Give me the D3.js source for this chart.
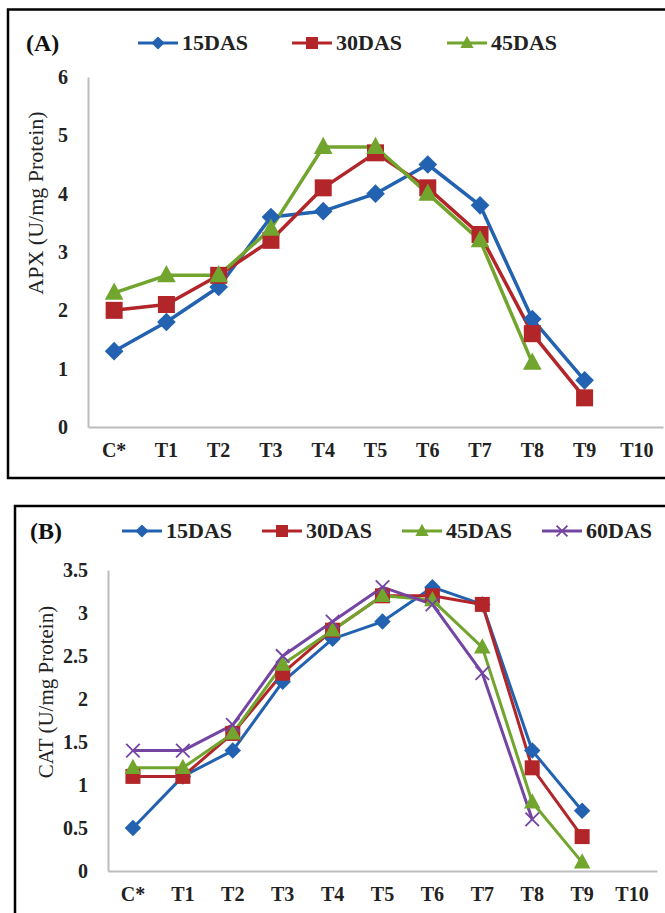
<!DOCTYPE html>
<html><head><meta charset="utf-8">
<script src="https://cdn.jsdelivr.net/npm/d3@7"></script>
<style>body{margin:0;background:#fff}svg{display:block}text{font-family:"Liberation Serif","Times New Roman",serif}</style>
</head><body>
<svg id="c" width="665" height="913"></svg>
<script>
const categories = ["C*","T1","T2","T3","T4","T5","T6","T7","T8","T9","T10"];
const apx15 = [1.3,1.8,2.4,3.6,3.7,4.0,4.5,3.8,1.85,0.8,null];
const apx30 = [2.0,2.1,2.6,3.2,4.1,4.7,4.1,3.3,1.6,0.5,null];
const apx45 = [2.3,2.6,2.6,3.4,4.8,4.8,4.0,3.2,1.1,null,null];
const cat15 = [0.5,1.1,1.4,2.2,2.7,2.9,3.3,3.1,1.4,0.7,null];
const cat30 = [1.1,1.1,1.6,2.3,2.8,3.2,3.2,3.1,1.2,0.4,null];
const cat45 = [1.2,1.2,1.6,2.4,2.8,3.2,3.15,2.6,0.8,0.1,null];
const cat60 = [1.4,1.4,1.7,2.5,2.9,3.3,3.1,2.3,0.6,null,null];
const apxTicks = [0,1,2,3,4,5,6];
const catTicks = [0,0.5,1,1.5,2,2.5,3,3.5];
const seriesNames = ["15DAS","30DAS","45DAS","60DAS"];
const colors = ["#2262b0","#b2262a","#72a52e","#7445a2"];

const svg = d3.select("#c");

function marker(g, idx, x, y, size){
  const col = colors[idx];
  if(idx===0){
    const s=size*0.55;
    g.append("path").attr("d",`M${x},${y-s}L${x+s},${y}L${x},${y+s}L${x-s},${y}Z`).attr("fill",col);
  } else if(idx===1){
    const s=size*0.5;
    g.append("rect").attr("x",x-s).attr("y",y-s).attr("width",2*s).attr("height",2*s).attr("fill",col);
  } else if(idx===2){
    const s=size*0.55;
    g.append("path").attr("d",`M${x},${y-s*1.1}L${x+s},${y+s*0.75}L${x-s},${y+s*0.75}Z`).attr("fill",col);
  } else {
    const s=size*0.45;
    g.append("path").attr("d",`M${x-s},${y-s}L${x+s},${y+s}M${x+s},${y-s}L${x-s},${y+s}`).attr("stroke",col).attr("stroke-width",1.8).attr("fill","none");
  }
}

function panel(cfg){
  const g = svg.append("g");
  g.append("rect").attr("x",cfg.box[0]).attr("y",cfg.box[1]).attr("width",cfg.box[2]).attr("height",cfg.box[3])
    .attr("fill","none").attr("stroke","#000").attr("stroke-width",2.5);
  const x = d3.scaleBand().domain(categories).range([cfg.x0,cfg.x1]).padding(0);
  const y = d3.scaleLinear().domain([0,cfg.ymax]).range([cfg.y0,cfg.yTop]);
  const xa = g.append("g").attr("transform",`translate(0,${cfg.y0})`).call(d3.axisBottom(x).tickSize(0).tickPadding(cfg.xpad));
  xa.select(".domain").attr("stroke","#bdbdbd").attr("stroke-width",2);
  xa.selectAll("text").attr("font-size",20).attr("font-weight","bold").attr("fill","#222").attr("font-family","Liberation Serif");
  const ya = g.append("g").attr("transform",`translate(${cfg.x0},0)`).call(d3.axisLeft(y).tickValues(cfg.ticks).tickSize(0).tickPadding(cfg.ypad).tickFormat(d3.format("")));
  ya.select(".domain").attr("stroke","#bdbdbd").attr("stroke-width",2);
  ya.selectAll("text").attr("font-size",20).attr("font-weight","bold").attr("fill","#222").attr("font-family","Liberation Serif");
  g.append("text").attr("transform",`translate(${cfg.titleX},${cfg.titleY}) rotate(-90)`).attr("text-anchor","middle").attr("dy","0.35em")
    .attr("font-size",cfg.titleSize).attr("fill","#222").text(cfg.title);
  const line = d3.line().defined(d=>d.v!=null).x(d=>x(d.c)+x.bandwidth()/2).y(d=>y(d.v));
  cfg.series.forEach((vals,i)=>{
    const data = categories.map((c,j)=>({c, v: vals[j]}));
    g.append("path").datum(data).attr("d",line).attr("fill","none").attr("stroke",colors[i]).attr("stroke-width",cfg.lw).attr("stroke-linejoin","round");
  });
  cfg.series.forEach((vals,i)=>{
    categories.forEach((c,j)=>{ if(vals[j]!=null) marker(g,i,x(c)+x.bandwidth()/2,y(vals[j]),cfg.msize); });
  });
  g.append("text").attr("x",cfg.labelX).attr("y",cfg.legY+8).attr("font-size",24).attr("font-weight","bold").attr("fill","#111").text(cfg.label);
  cfg.series.forEach((vals,i)=>{
    const lx = cfg.legX[i];
    g.append("line").attr("x1",lx).attr("x2",lx+40).attr("y1",cfg.legY).attr("y2",cfg.legY).attr("stroke",colors[i]).attr("stroke-width",3);
    marker(g,i,lx+20,cfg.legY,cfg.lmsize);
    g.append("text").attr("x",lx+44).attr("y",cfg.legY+7).attr("font-size",22).attr("font-weight","bold").attr("fill","#222").text(seriesNames[i]);
  });
}

panel({box:[8,9.5,670,468.5], x0:88, x1:663, y0:427, yTop:77, ymax:6, ticks:apxTicks, xpad:16, ypad:20,
  title:"APX (U/mg Protein)", titleSize:22, titleX:35, titleY:203, series:[apx15,apx30,apx45], msize:17, lmsize:12, lw:3.5,
  label:"(A)", labelX:26, legY:43, legX:[138,292,447]});
panel({box:[15,506,670,420], x0:108, x1:657, y0:871, yTop:570, ymax:3.5, ticks:catTicks, xpad:16, ypad:20,
  title:"CAT (U/mg Protein)", titleSize:21, titleX:46, titleY:692, series:[cat15,cat30,cat45,cat60], msize:15, lmsize:12, lw:3,
  label:"(B)", labelX:30, legY:531, legX:[122,262,402,542]});
</script>
</body></html>
